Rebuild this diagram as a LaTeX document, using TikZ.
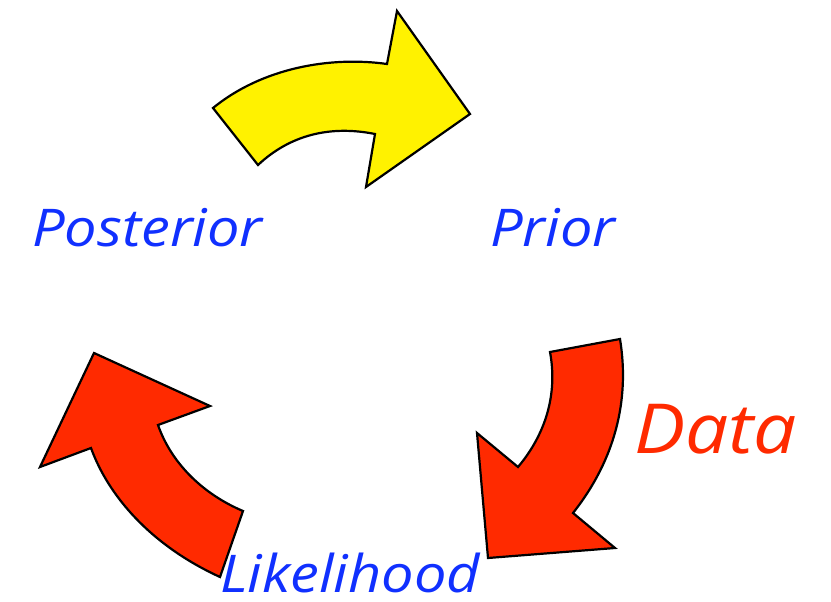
\documentclass[tikz,border=0pt]{standalone}
\usepackage{fontspec}
\setmainfont{Open Sans}[FakeStretch=1.11]
\begin{document}
\begin{tikzpicture}[x=1pt,y=-1pt,
  arrowshape/.style={draw=black,line width=2.2pt,line join=miter},
  lbl/.style={font=\itshape\fontsize{52}{52}\selectfont,text=labelblue,inner sep=0pt,anchor=base west},
  dlbl/.style={font=\itshape\fontsize{69}{69}\selectfont,text=datared,inner sep=0pt,anchor=base west}]
\definecolor{labelblue}{RGB}{16,48,255}
\definecolor{datared}{RGB}{255,42,0}
\definecolor{arrowred}{RGB}{255,42,0}
\useasboundingbox (0,0) rectangle (831,602);
% yellow arrow
\path[arrowshape,fill=yellow] (213,108) .. controls (262,68) and (330,56) .. (387,64)
  -- (397,11) -- (470,114) -- (366,187) -- (375,134)
  .. controls (330,125) and (290,135) .. (258,165) -- cycle;
% data arrow
\path[arrowshape,fill=arrowred] (620,339) -- (550,352)
  .. controls (558,395) and (545,435) .. (518,467)
  -- (477,433) -- (488,558) -- (615,548) -- (573,513)
  .. controls (615,460) and (630,400) .. cycle;
% posterior arrow
\path[arrowshape,fill=arrowred] (243,511) -- (220,577)
  .. controls (150,545) and (108,495) .. (91,448)
  -- (40,467) -- (94,353) -- (210,406) -- (158,425)
  .. controls (172,465) and (205,495) .. cycle;
\node[lbl] (post) at (32,246) {Posterior};
\node[lbl] (prior) at (490,246) {Prior};
\node[lbl] (lik) at (220,592) {Likelihood};
\node[dlbl] (data) at (634,453) {Data};
\end{tikzpicture}
\end{document}
